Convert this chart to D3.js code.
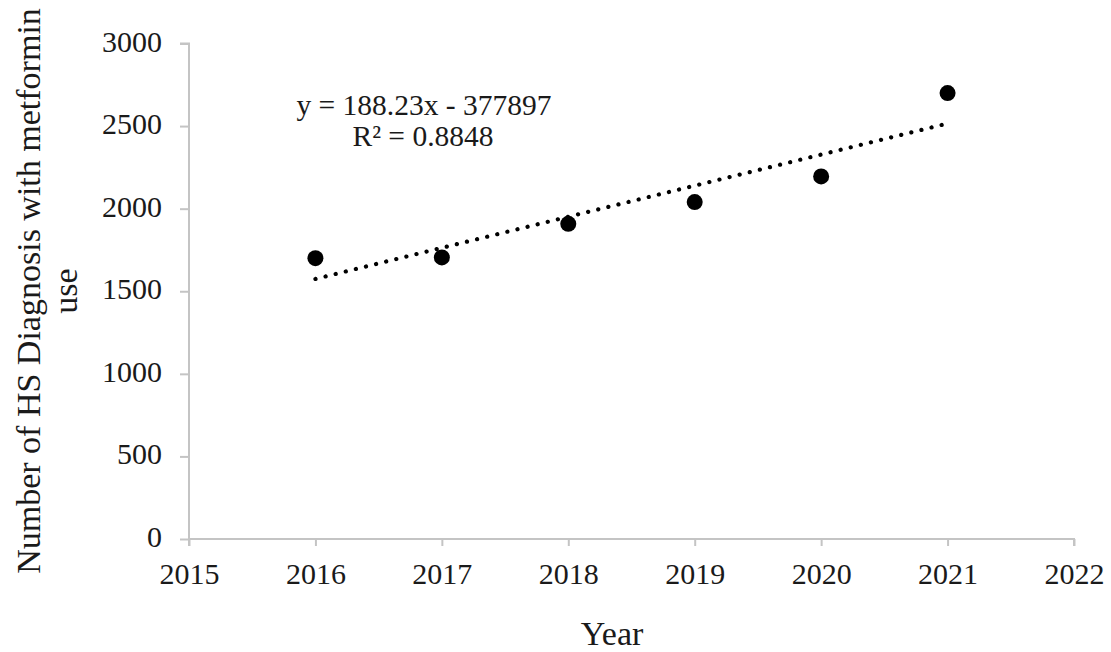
<!DOCTYPE html>
<html>
<head>
<meta charset="utf-8">
<script src="https://cdn.jsdelivr.net/npm/d3@7"></script>
<style>
  html, body { margin: 0; padding: 0; background: #fff; }
  svg { display: block; }
  text { font-family: "Liberation Serif", "Times New Roman", serif; fill: #1a1a1a; }
</style>
</head>
<body>
<svg id="chart" width="1111" height="652"></svg>
<script>
// Yearly counts of HS diagnoses with metformin use
const years = [2016, 2017, 2018, 2019, 2020, 2021];
const counts = [1700, 1705, 1908, 2040, 2195, 2700];

// Linear trend line coefficients and labels
const trendSlope = 188.23;
const trendIntercept = -377897;
const trendLabel = "y = 188.23x - 377897";
const r2Label = "R² = 0.8848";

const xTicks = [2015, 2016, 2017, 2018, 2019, 2020, 2021, 2022];
const yTicks = [0, 500, 1000, 1500, 2000, 2500, 3000];

const svg = d3.select("#chart");
const plotLeft = 189, plotRight = 1074, plotTop = 43.5, plotBottom = 539;

const x = d3.scaleLinear().domain([2015, 2022]).range([plotLeft, plotRight]);
const y = d3.scaleLinear().domain([0, 3000]).range([plotBottom, plotTop]);

const axisColor = "#c4c4c4";
const tickFont = 30;

// Y axis
const yAxis = svg.append("g")
  .attr("transform", `translate(${plotLeft},0)`)
  .call(d3.axisLeft(y).tickValues(yTicks).tickSize(9).tickPadding(18).tickFormat(d3.format("d")));
yAxis.select(".domain").attr("stroke", axisColor).attr("stroke-width", 2)
  .attr("d", `M-9,${plotTop}H0V${plotBottom}`);
yAxis.selectAll(".tick line").attr("stroke", axisColor).attr("stroke-width", 2);
yAxis.selectAll(".tick text").attr("font-size", tickFont).attr("font-family", "Liberation Serif")
  .attr("fill", "#1a1a1a").attr("dy", "0.25em");

// X axis
const xAxis = svg.append("g")
  .attr("transform", `translate(0,${plotBottom})`)
  .call(d3.axisBottom(x).tickValues(xTicks).tickSize(7).tickPadding(17).tickFormat(d3.format("d")));
xAxis.select(".domain").attr("stroke", axisColor).attr("stroke-width", 2)
  .attr("d", `M${plotLeft},7V0H${plotRight}V7`);
xAxis.selectAll(".tick line").attr("stroke", axisColor).attr("stroke-width", 2);
xAxis.selectAll(".tick text").attr("font-size", tickFont).attr("font-family", "Liberation Serif").attr("fill", "#1a1a1a");

// Dotted trend line across the data range
const trend = d3.extent(years).map(t => [t, trendSlope * t + trendIntercept]);
svg.append("path")
  .datum(trend)
  .attr("d", d3.line().x(d => x(d[0])).y(d => y(d[1])))
  .attr("fill", "none")
  .attr("stroke", "#000")
  .attr("stroke-width", 4.2)
  .attr("stroke-linecap", "round")
  .attr("stroke-dasharray", "0.1 10.3");

// Data points
svg.append("g").selectAll("circle")
  .data(years.map((t, i) => [t, counts[i]]))
  .join("circle")
  .attr("cx", d => x(d[0]))
  .attr("cy", d => y(d[1]))
  .attr("r", 8)
  .attr("fill", "#000");

// Trend equation
svg.append("text").attr("x", 424).attr("y", 115).attr("text-anchor", "middle")
  .attr("font-size", 29.5).text(trendLabel);
svg.append("text").attr("x", 423).attr("y", 146).attr("text-anchor", "middle")
  .attr("font-size", 29.5).text(r2Label);

// Axis titles
svg.append("text").attr("x", 612).attr("y", 645).attr("text-anchor", "middle")
  .attr("font-size", 34).text("Year");

const yTitle = svg.append("text")
  .attr("transform", "translate(0,291) rotate(-90)")
  .attr("text-anchor", "middle")
  .attr("font-size", 34);
yTitle.append("tspan").attr("x", 0).attr("y", 40).text("Number of HS Diagnosis with metformin");
yTitle.append("tspan").attr("x", 0).attr("y", 77).text("use");
</script>
</body>
</html>
